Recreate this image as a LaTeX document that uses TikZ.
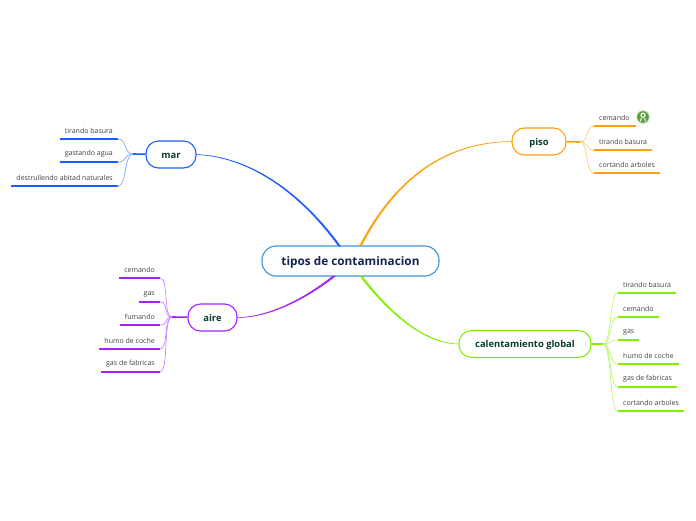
\documentclass[tikz,border=0pt]{standalone}
\usepackage{fontspec}
\setmainfont{Open Sans}
\usepackage{tikz}
\usetikzlibrary{positioning,calc}
\definecolor{marblue}{HTML}{1A5CFF}
\definecolor{pisoorange}{HTML}{FF9F0A}
\definecolor{airepurple}{HTML}{A51FFF}
\definecolor{calgreen}{HTML}{80F000}
\definecolor{rootblue}{HTML}{3D94D6}
\definecolor{rootink}{HTML}{14264F}
\definecolor{branchink}{HTML}{0A3D30}
\definecolor{badgegreen}{HTML}{5A9E3C}

\begin{document}
\begin{tikzpicture}[
  x=1pt, y=-1pt,
  root/.style={rectangle,rounded corners=14pt,draw=rootblue,fill=white,line width=1.1pt,minimum width=177pt,minimum height=30pt,inner sep=0pt,text height=9.5pt,text depth=0pt,font=\fontsize{11.8}{14}\selectfont\bfseries,text=rootink},
  branch/.style={rectangle,rounded corners=12.5pt,draw,fill=white,line width=1.1pt,minimum height=27pt,inner sep=0pt,text height=7.5pt,text depth=0pt,font=\fontsize{9.4}{11}\selectfont\bfseries,text=branchink},
  leafl/.style={anchor=south east,inner xsep=5pt,inner ysep=5pt,font=\fontsize{7}{9}\selectfont,text=black!75},
  leafr/.style={anchor=south west,inner xsep=5pt,inner ysep=5pt,font=\fontsize{7}{9}\selectfont,text=black!75},
  mainlink/.style={line width=0.5pt},
  sublink/.style={line width=0.7pt},
  fanl/.style={out=180,in=0,distance=9pt},
  fanr/.style={out=0,in=180,distance=9pt},
  under/.style={line width=1.6pt},
]
  \useasboundingbox (0,0) rectangle (696,520);
  % centre and the four branches
  \node[root] (tipos) at (350.5,261) {tipos de contaminacion\hspace{6pt}};
  \node[branch,draw=marblue,minimum width=50pt] (mar) at (171,154.5) {mar};
  \node[branch,draw=pisoorange,minimum width=54pt] (piso) at (539,141.5) {piso\hspace{5pt}};
  \node[branch,draw=airepurple,minimum width=49pt] (aire) at (212.5,317.5) {aire};
  \node[branch,draw=calgreen,minimum width=132pt] (cal) at (525,344) {calentamiento global};
  \coordinate (tmar) at (338.5,246);
  \coordinate (tmarb) at (340.3,246);
  \coordinate (tpiso) at (359.5,246);
  \coordinate (tpisob) at (361.3,246);
  \coordinate (taire) at (333,276);
  \coordinate (taireb) at (335.5,276);
  \coordinate (tcal) at (360,276);
  \coordinate (tcalb) at (362,276);
  \draw[mainlink,marblue,fill=marblue] (mar.east) .. controls (250,157) and (300,193) .. (tmar) -- (tmarb) .. controls (301,192) and (250,156.6) .. (mar.east);
  \draw[mainlink,pisoorange,fill=pisoorange] (piso.west) .. controls (445,142) and (395,178) .. (tpiso) -- (tpisob) .. controls (396,179) and (445,142.4) .. (piso.west);
  \draw[mainlink,airepurple,fill=airepurple] (aire.east) .. controls (270,317) and (305,298) .. (taire) -- (taireb) .. controls (306,299) and (270,317.4) .. (aire.east);
  \draw[mainlink,calgreen,fill=calgreen] (cal.west) .. controls (425,343.6) and (390,315) .. (tcal) -- (tcalb) .. controls (391,314) and (425,343) .. (cal.west);
  % mar
  \coordinate (jmar) at (133,154);
  \node[leafl] (m1) at (118,139) {tirando basura};
  \node[leafl] (m2) at (118,162) {gastando agua};
  \node[leafl] (m3) at (118,186) {destrullendo abitad naturales};
  \draw[marblue,under] (mar) -- (jmar);
  \draw[marblue,under] (m1.south west) -- (m1.south east);
  \draw[marblue,under] (m2.south west) -- (m2.south east);
  \draw[marblue,under] (m3.south west) -- (m3.south east);
  \draw[marblue!55,sublink] (jmar) to[fanl] (m1.south east);
  \draw[marblue!55,sublink] (jmar) to[fanl] (m2.south east);
  \draw[marblue!55,sublink] (jmar) to[fanl] (m3.south east);
  % piso
  \coordinate (jpiso) at (580,142);
  \node[leafr] (p1) at (594,126) {cemando};
  \node[leafr] (p2) at (594,150) {tirando basura};
  \node[leafr] (p3) at (594,173) {cortando arboles};
  \node[circle,fill=badgegreen,draw=badgegreen!40,line width=0.8pt,minimum size=12.5pt,inner sep=0pt] (badge) at (643,117) {};
  \draw[white,line width=1.1pt] (643,115.2) circle (2pt);
  \draw[white,line width=1pt] (641.3,118) -- (640.6,121.4) (644.7,118) -- (645.4,121.4);
  \draw[pisoorange,under] (piso) -- (jpiso);
  \draw[pisoorange,under] (p1.south west) -- (636,126);
  \draw[pisoorange,under] (p2.south west) -- (p2.south east);
  \draw[pisoorange,under] (p3.south west) -- (p3.south east);
  \draw[pisoorange!55,sublink] (jpiso) to[fanr] (p1.south west);
  \draw[pisoorange!55,sublink] (jpiso) to[fanr] (p2.south west);
  \draw[pisoorange!55,sublink] (jpiso) to[fanr] (p3.south west);
  % aire
  \coordinate (jaire) at (172,317);
  \node[leafl] (a1) at (160,278) {cemando};
  \node[leafl] (a2) at (160,302) {gas};
  \node[leafl] (a3) at (160,325) {fumando};
  \node[leafl] (a4) at (160,349) {humo de coche};
  \node[leafl] (a5) at (160,372) {gas de fabricas};
  \draw[airepurple,under] (aire) -- (jaire);
  \draw[airepurple,under] (a1.south west) -- (a1.south east);
  \draw[airepurple,under] (a2.south west) -- (a2.south east);
  \draw[airepurple,under] (a3.south west) -- (a3.south east);
  \draw[airepurple,under] (a4.south west) -- (a4.south east);
  \draw[airepurple,under] (a5.south west) -- (a5.south east);
  \draw[airepurple!55,sublink] (jaire) to[fanl] (a1.south east);
  \draw[airepurple!55,sublink] (jaire) to[fanl] (a2.south east);
  \draw[airepurple!55,sublink] (jaire) to[fanl] (a3.south east);
  \draw[airepurple!55,sublink] (jaire) to[fanl] (a4.south east);
  \draw[airepurple!55,sublink] (jaire) to[fanl] (a5.south east);
  % calentamiento global
  \coordinate (jcal) at (603,344);
  \node[leafr] (c1) at (618,293) {tirando basura};
  \node[leafr] (c2) at (618,317) {cemando};
  \node[leafr] (c3) at (618,340) {gas};
  \node[leafr] (c4) at (618,364) {humo de coche};
  \node[leafr] (c5) at (618,387) {gas de fabricas};
  \node[leafr] (c6) at (618,411) {cortando arboles};
  \draw[calgreen,under] (cal) -- (jcal);
  \draw[calgreen,under] (c1.south west) -- (c1.south east);
  \draw[calgreen,under] (c2.south west) -- (c2.south east);
  \draw[calgreen,under] (c3.south west) -- (c3.south east);
  \draw[calgreen,under] (c4.south west) -- (c4.south east);
  \draw[calgreen,under] (c5.south west) -- (c5.south east);
  \draw[calgreen,under] (c6.south west) -- (c6.south east);
  \draw[calgreen!55,sublink] (jcal) to[fanr] (c1.south west);
  \draw[calgreen!55,sublink] (jcal) to[fanr] (c2.south west);
  \draw[calgreen!55,sublink] (jcal) to[fanr] (c3.south west);
  \draw[calgreen!55,sublink] (jcal) to[fanr] (c4.south west);
  \draw[calgreen!55,sublink] (jcal) to[fanr] (c5.south west);
  \draw[calgreen!55,sublink] (jcal) to[fanr] (c6.south west);
\end{tikzpicture}
\end{document}
